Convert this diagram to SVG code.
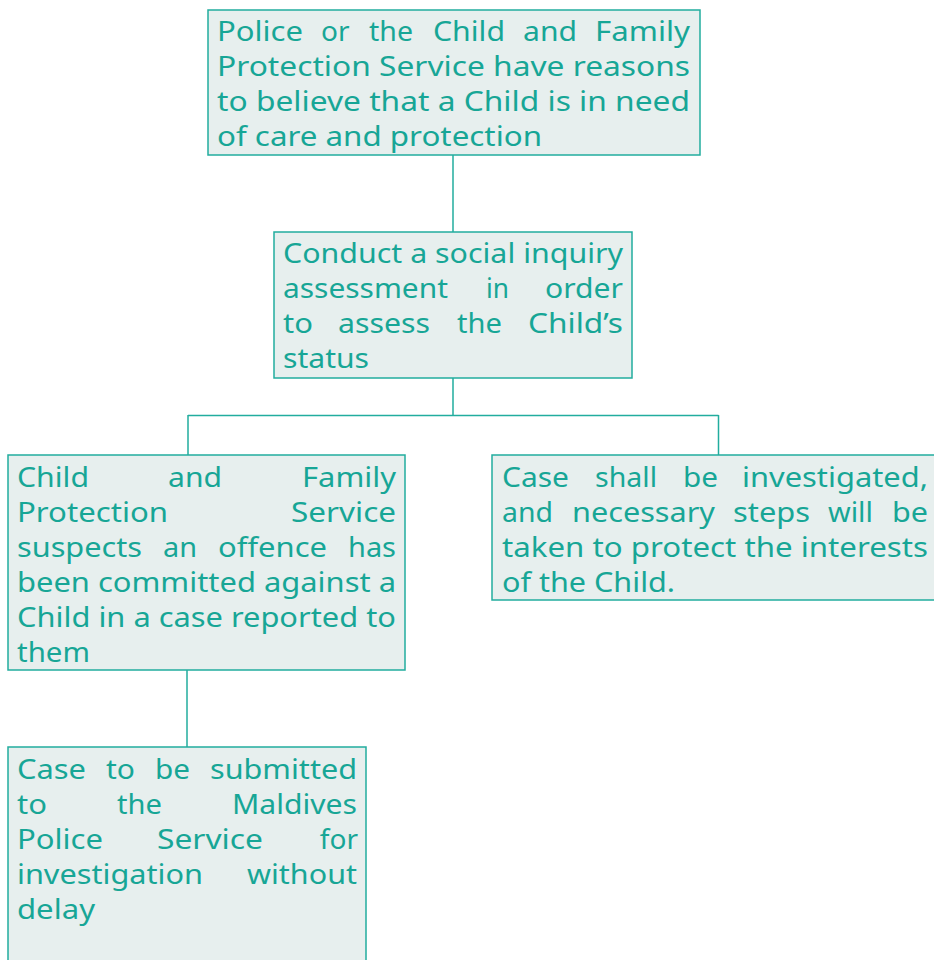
<svg xmlns="http://www.w3.org/2000/svg" width="934" height="960" viewBox="0 0 934 960">
<style>
.box{fill:#e7efee;stroke:#22ad9e;stroke-width:1.5}
.c{fill:none;stroke:#22ad9e;stroke-width:1.5}
text{font-family:"Noto Sans","Open Sans",sans-serif;font-size:28px;fill:#17a696}
.e{text-anchor:end}
</style>
<rect width="934" height="960" fill="#ffffff"/>
<g id="connectors">
<path class="c" d="M453,155 V232"/>
<path class="c" d="M453,378 V415.5 M188,415.5 H718.5 M188,415 V455 M718.5,415 V455"/>
<path class="c" d="M187,670 V747"/>
</g>
<g id="n1">
<rect class="box" x="208" y="10" width="492" height="145"/>
<text x="217" y="41" textLength="86" lengthAdjust="spacingAndGlyphs">Police</text>
<text x="321" y="41">or</text>
<text x="369" y="41" textLength="44" lengthAdjust="spacingAndGlyphs">the</text>
<text x="433" y="41" textLength="72" lengthAdjust="spacingAndGlyphs">Child</text>
<text x="523" y="41" textLength="54" lengthAdjust="spacingAndGlyphs">and</text>
<text x="595" y="41" textLength="95" lengthAdjust="spacingAndGlyphs">Family</text>
<text x="217" y="76" textLength="473" lengthAdjust="spacingAndGlyphs">Protection Service have reasons</text>
<text x="217" y="111" textLength="473" lengthAdjust="spacingAndGlyphs">to believe that a Child is in need</text>
<text x="217" y="146" textLength="325" lengthAdjust="spacingAndGlyphs">of care and protection</text>
</g>
<g id="n2">
<rect class="box" x="274" y="232" width="358" height="146"/>
<text x="283" y="263" textLength="340" lengthAdjust="spacingAndGlyphs">Conduct a social inquiry</text>
<text x="283" y="298" textLength="165" lengthAdjust="spacingAndGlyphs">assessment</text>
<text x="486" y="298" textLength="23" lengthAdjust="spacingAndGlyphs">in</text>
<text x="545" y="298" textLength="78" lengthAdjust="spacingAndGlyphs">order</text>
<text x="283" y="333" textLength="30" lengthAdjust="spacingAndGlyphs">to</text>
<text x="338" y="333" textLength="92" lengthAdjust="spacingAndGlyphs">assess</text>
<text x="457" y="333" textLength="45" lengthAdjust="spacingAndGlyphs">the</text>
<text x="528" y="333" textLength="95" lengthAdjust="spacingAndGlyphs">Child’s</text>
<text x="283" y="368" textLength="86" lengthAdjust="spacingAndGlyphs">status</text>
</g>
<g id="n3">
<rect class="box" x="8" y="455" width="397" height="215"/>
<text x="17" y="487" textLength="72" lengthAdjust="spacingAndGlyphs">Child</text>
<text x="168" y="487" textLength="54" lengthAdjust="spacingAndGlyphs">and</text>
<text x="302" y="487" textLength="94" lengthAdjust="spacingAndGlyphs">Family</text>
<text x="17" y="522" textLength="151" lengthAdjust="spacingAndGlyphs">Protection</text>
<text x="291" y="522" textLength="105" lengthAdjust="spacingAndGlyphs">Service</text>
<text x="17" y="557" textLength="125" lengthAdjust="spacingAndGlyphs">suspects</text>
<text x="163" y="557" textLength="34" lengthAdjust="spacingAndGlyphs">an</text>
<text x="218" y="557" textLength="109" lengthAdjust="spacingAndGlyphs">offence</text>
<text x="348" y="557" textLength="48" lengthAdjust="spacingAndGlyphs">has</text>
<text x="17" y="592" textLength="379" lengthAdjust="spacingAndGlyphs">been committed against a</text>
<text x="17" y="627" textLength="379" lengthAdjust="spacingAndGlyphs">Child in a case reported to</text>
<text x="17" y="662" textLength="73" lengthAdjust="spacingAndGlyphs">them</text>
</g>
<g id="n4">
<rect class="box" x="492" y="455" width="450" height="145"/>
<text x="502" y="487" textLength="67" lengthAdjust="spacingAndGlyphs">Case</text>
<text x="595" y="487" textLength="62" lengthAdjust="spacingAndGlyphs">shall</text>
<text x="683" y="487" textLength="35" lengthAdjust="spacingAndGlyphs">be</text>
<text x="742" y="487" textLength="186" lengthAdjust="spacingAndGlyphs">investigated,</text>
<text x="502" y="522" textLength="51" lengthAdjust="spacingAndGlyphs">and</text>
<text x="572" y="522" textLength="143" lengthAdjust="spacingAndGlyphs">necessary</text>
<text x="733" y="522" textLength="77" lengthAdjust="spacingAndGlyphs">steps</text>
<text x="828" y="522" textLength="45" lengthAdjust="spacingAndGlyphs">will</text>
<text x="892" y="522" textLength="36" lengthAdjust="spacingAndGlyphs">be</text>
<text x="502" y="557" textLength="426" lengthAdjust="spacingAndGlyphs">taken to protect the interests</text>
<text x="502" y="592" textLength="173" lengthAdjust="spacingAndGlyphs">of the Child.</text>
</g>
<g id="n5">
<rect class="box" x="8" y="747" width="358" height="230"/>
<text x="17" y="779" textLength="69" lengthAdjust="spacingAndGlyphs">Case</text>
<text x="106" y="779" textLength="29" lengthAdjust="spacingAndGlyphs">to</text>
<text x="155" y="779" textLength="35" lengthAdjust="spacingAndGlyphs">be</text>
<text x="210" y="779" textLength="147" lengthAdjust="spacingAndGlyphs">submitted</text>
<text x="17" y="814" textLength="30" lengthAdjust="spacingAndGlyphs">to</text>
<text x="117" y="814" textLength="45" lengthAdjust="spacingAndGlyphs">the</text>
<text x="232" y="814" textLength="125" lengthAdjust="spacingAndGlyphs">Maldives</text>
<text x="17" y="849" textLength="86" lengthAdjust="spacingAndGlyphs">Police</text>
<text x="157" y="849" textLength="106" lengthAdjust="spacingAndGlyphs">Service</text>
<text class="e" x="358" y="849">for</text>
<text x="17" y="884" textLength="186" lengthAdjust="spacingAndGlyphs">investigation</text>
<text x="247" y="884" textLength="110" lengthAdjust="spacingAndGlyphs">without</text>
<text x="17" y="919" textLength="78" lengthAdjust="spacingAndGlyphs">delay</text>
</g>
</svg>
